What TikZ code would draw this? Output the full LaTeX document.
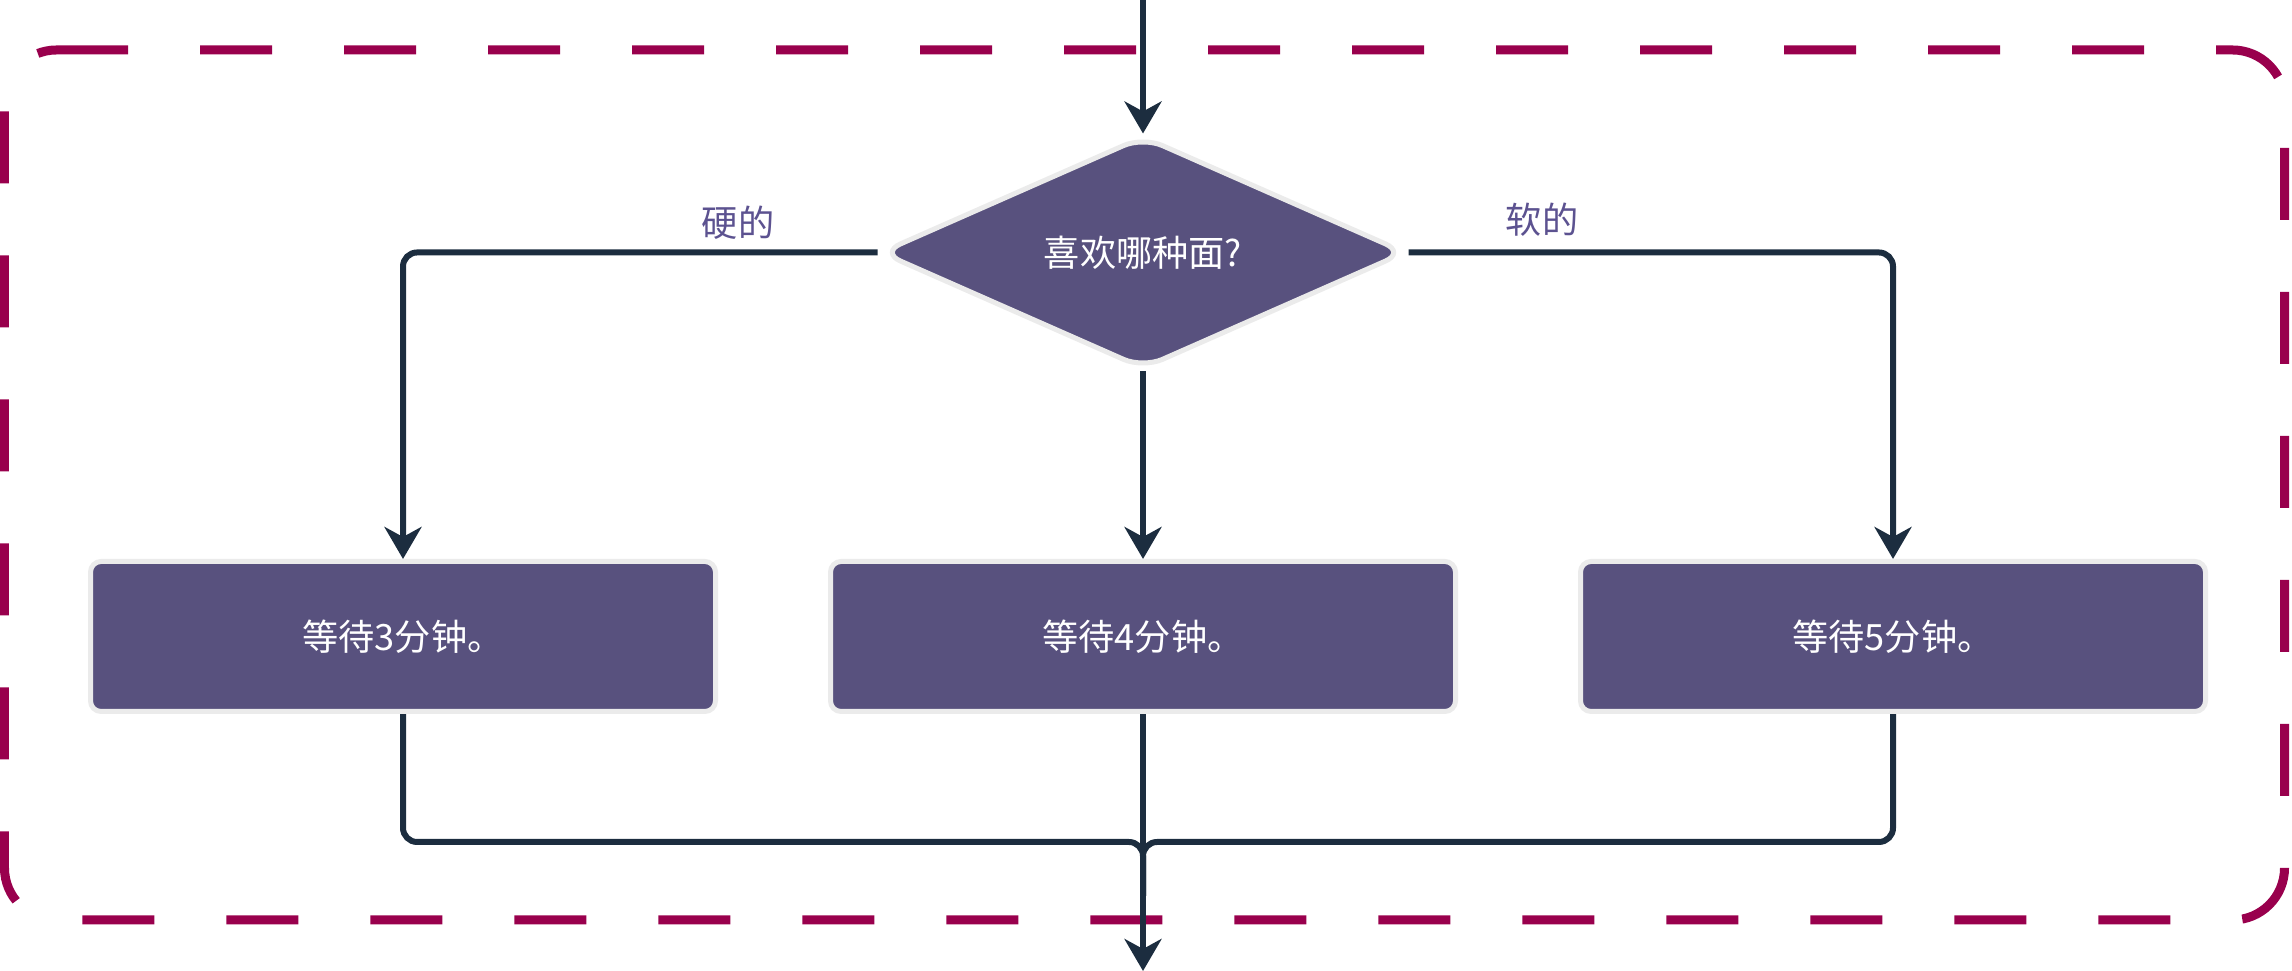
\documentclass[tikz,border=0pt]{standalone}
\usepackage{fontspec}
\setmainfont{Noto Sans CJK SC}
\usepackage{xcolor}
\usepackage{tikz}
\usetikzlibrary{shapes.geometric, arrows.meta, positioning, backgrounds}

\definecolor{nodefill}{HTML}{58517E}
\definecolor{nodeedge}{HTML}{EBEBEB}
\definecolor{flowline}{HTML}{1C2D3F}
\definecolor{labeltext}{HTML}{5C5290}
\definecolor{framecol}{HTML}{99004D}

\begin{document}
\begin{tikzpicture}[
    font=\fontsize{10.3pt}{12pt}\selectfont,
    % Styles
    decision/.style={diamond, draw=nodeedge, line width=0.05cm, fill=nodefill, text=white, minimum width=5.26cm, minimum height=2.33cm, inner sep=0pt, rounded corners=6pt},
    stepbox/.style={rectangle, draw=nodeedge, line width=0.05cm, fill=nodefill, text=white, minimum width=6.25cm, minimum height=1.5cm, rounded corners=3pt},
    flow/.style={line width=0.06cm, color=flowline, rounded corners=4pt},
    arrow/.style={flow, -{Stealth[length=0.32cm, width=0.37cm, inset=0.1cm]}},
    branchlabel/.style={text=labeltext},
    groupframe/.style={draw=framecol, line width=0.09cm, dash pattern=on 0.72cm off 0.72cm, rounded corners=0.52cm}
]
\useasboundingbox (0,0) rectangle (22.92,9.71);

% Decision
\node[decision] (noodle) at (11.43,7.185) {喜欢哪种面?};

% Waiting steps
\node[stepbox] (wait3) at (4.03,3.345) {等待3分钟。};
\node[stepbox] (wait4) at (11.43,3.345) {等待4分钟。};
\node[stepbox] (wait5) at (18.93,3.345) {等待5分钟。};

% Branch labels
\node[branchlabel] (hardlbl) at (7.38,7.48) {硬的};
\node[branchlabel] (softlbl) at (15.42,7.51) {软的};

% Free ends
\coordinate (entry) at (11.43,9.71);
\coordinate (join) at (11.43,1.29);
\coordinate (exit) at (11.43,0.75);
\coordinate (out) at (11.43,0);

\begin{scope}[on background layer]
% Group frame
\draw[groupframe] (0.56,9.21) -- (22.845,9.21) -- (22.845,0.51) -- (0.045,0.51) -- (0.045,9.21) -- (0.56,9.21);

% Arrows
\draw[arrow] (entry) -- (noodle.north);
\draw[arrow] (noodle.west) -| (wait3.north);
\draw[arrow] (noodle.south) -- (wait4.north);
\draw[arrow] (noodle.east) -| (wait5.north);
\draw[flow] (wait3.south) |- (join) -- (exit);
\draw[flow] (wait5.south) |- (join) -- (exit);
\draw[arrow] (wait4.south) -- (out);
\end{scope}

\end{tikzpicture}
\end{document}
